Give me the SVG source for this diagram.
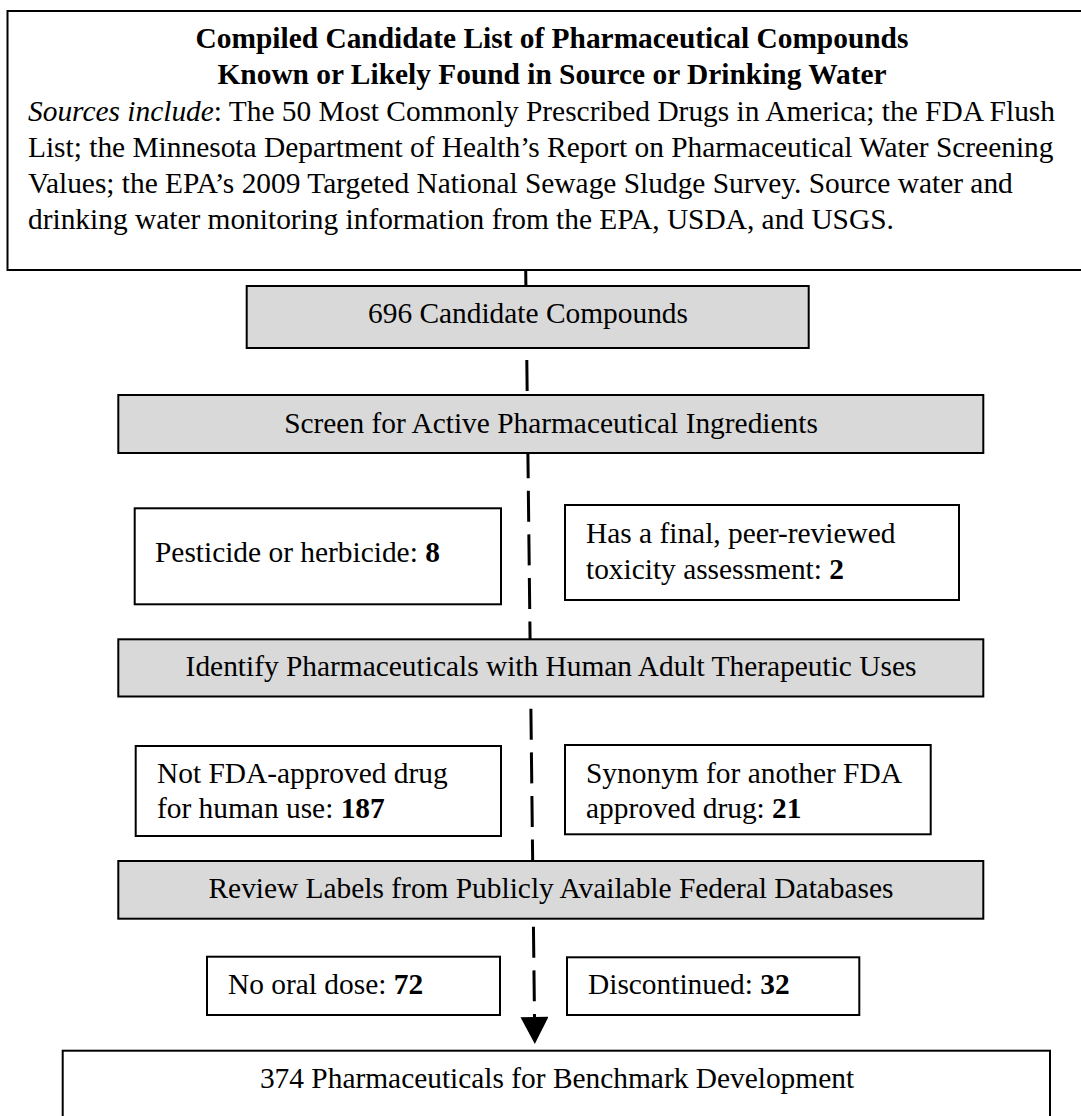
<svg xmlns="http://www.w3.org/2000/svg" width="1081" height="1116" viewBox="0 0 1081 1116">
<defs>
<style>
.t{font-family:"Liberation Serif","Times New Roman",serif;font-size:29.4px;fill:#000}
.b{font-weight:bold}
.c{text-anchor:middle}
.box{fill:#fff;stroke:#000;stroke-width:2}
.gray{fill:#d9d9d9;stroke:#000;stroke-width:2}
.conn{stroke:#000;stroke-width:3;fill:none}
</style>
<marker id="arr" markerUnits="userSpaceOnUse" markerWidth="28" markerHeight="28" viewBox="0 0 25 26" refX="0" refY="13" orient="auto">
<path d="M0,0 L25,13 L0,26 Z" fill="#000"/>
</marker>
</defs>
<rect width="1081" height="1116" fill="#fff"/>
<g id="connectors">
<line class="conn" x1="525.7" y1="270" x2="525.9" y2="286"/>
<line class="conn" x1="526.8" y1="360" x2="534.5" y2="1017" stroke-dasharray="31 12.6" marker-end="url(#arr)"/>
</g>
<g id="sources">
<rect class="box" x="7.5" y="11" width="1100" height="259"/>
<text class="t b c" x="552" y="48">Compiled Candidate List of Pharmaceutical Compounds</text>
<text class="t b c" x="552" y="84">Known or Likely Found in Source or Drinking Water</text>
<text class="t" x="28" y="121"><tspan font-style="italic">Sources include</tspan>: The 50 Most Commonly Prescribed Drugs in America; the FDA Flush</text>
<text class="t" x="28" y="157">List; the Minnesota Department of Health’s Report on Pharmaceutical Water Screening</text>
<text class="t" x="28" y="193">Values; the EPA’s 2009 Targeted National Sewage Sludge Survey. Source water and</text>
<text class="t" x="28" y="229">drinking water monitoring information from the EPA, USDA, and USGS.</text>
</g>
<g id="candidates">
<rect class="gray" x="246.7" y="286" width="562" height="62"/>
<text class="t c" x="528" y="323">696 Candidate Compounds</text>
</g>
<g id="screen">
<rect class="gray" x="118.3" y="395" width="865" height="58"/>
<text class="t c" x="551" y="433">Screen for Active Pharmaceutical Ingredients</text>
</g>
<g id="pesticide">
<rect class="box" x="134.7" y="508.3" width="366.3" height="96"/>
<text class="t" x="155" y="562">Pesticide or herbicide: <tspan class="b">8</tspan></text>
</g>
<g id="toxicity">
<rect class="box" x="565" y="505" width="394" height="95"/>
<text class="t" x="586" y="543">Has a final, peer-reviewed</text>
<text class="t" x="586" y="579">toxicity assessment: <tspan class="b">2</tspan></text>
</g>
<g id="identify">
<rect class="gray" x="118.3" y="639.3" width="865" height="57.2"/>
<text class="t c" x="551" y="676">Identify Pharmaceuticals with Human Adult Therapeutic Uses</text>
</g>
<g id="notfda">
<rect class="box" x="135.7" y="746" width="365.3" height="90"/>
<text class="t" x="157" y="783">Not FDA-approved drug</text>
<text class="t" x="157" y="818">for human use: <tspan class="b">187</tspan></text>
</g>
<g id="synonym">
<rect class="box" x="565" y="745" width="365.7" height="89.3"/>
<text class="t" x="586" y="783">Synonym for another FDA</text>
<text class="t" x="586" y="818">approved drug: <tspan class="b">21</tspan></text>
</g>
<g id="review">
<rect class="gray" x="118.3" y="861" width="865" height="57.7"/>
<text class="t c" x="551" y="898">Review Labels from Publicly Available Federal Databases</text>
</g>
<g id="nooral">
<rect class="box" x="207" y="956.7" width="293" height="58.3"/>
<text class="t" x="228" y="994">No oral dose: <tspan class="b">72</tspan></text>
</g>
<g id="discontinued">
<rect class="box" x="567" y="957.3" width="292.3" height="57.7"/>
<text class="t" x="588" y="994">Discontinued: <tspan class="b">32</tspan></text>
</g>
<g id="final">
<rect class="box" x="62.7" y="1050.7" width="987.3" height="90"/>
<text class="t c" x="557" y="1088">374 Pharmaceuticals for Benchmark Development</text>
</g>
</svg>
